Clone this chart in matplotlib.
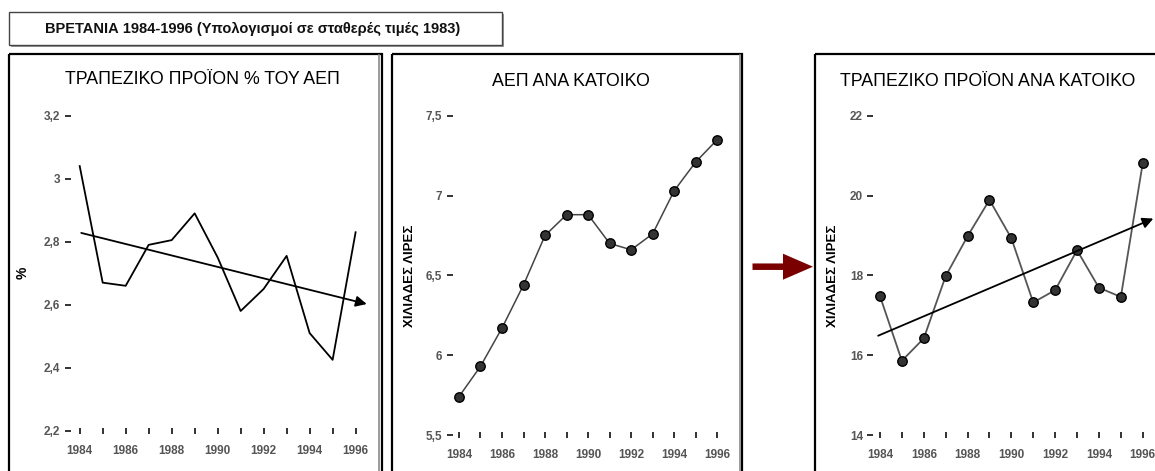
import numpy as np
import matplotlib
matplotlib.use('Agg')
import matplotlib.pyplot as plt
from matplotlib.patches import Rectangle, FancyArrow

plt.rcParams['font.family'] = ['Liberation Sans', 'DejaVu Sans']

# data
years = list(range(1984, 1997))
bank_pct_gdp = [3.04, 2.67, 2.66, 2.79, 2.805, 2.89, 2.75, 2.58, 2.65, 2.755, 2.51, 2.425, 2.83]
gdp_per_cap = [5.74, 5.93, 6.17, 6.44, 6.75, 6.88, 6.88, 6.70, 6.66, 6.76, 7.03, 7.21, 7.35]
bank_per_cap = [17.48, 15.86, 16.42, 17.98, 18.98, 19.89, 18.93, 17.32, 17.63, 18.63, 17.69, 17.46, 20.81]

# trend arrows (start / end)
trend1_x = [1983.95, 1996.6]
trend1_y = [2.83, 2.60]
trend3_x = [1983.8, 1996.6]
trend3_y = [16.46, 19.45]

titles = ['ΤΡΑΠΕΖΙΚΟ ΠΡΟΪΟΝ % ΤΟΥ ΑΕΠ', 'ΑΕΠ ΑΝΑ ΚΑΤΟΙΚΟ', 'ΤΡΑΠΕΖΙΚΟ ΠΡΟΪΟΝ ΑΝΑ ΚΑΤΟΙΚΟ']
ylabels = ['%', 'ΧΙΛΙΑΔΕΣ ΛΙΡΕΣ', 'ΧΙΛΙΑΔΕΣ ΛΙΡΕΣ']
yticks1 = [2.2, 2.4, 2.6, 2.8, 3.0, 3.2]
ylabs1 = ['2,2', '2,4', '2,6', '2,8', '3', '3,2']
yticks2 = [5.5, 6.0, 6.5, 7.0, 7.5]
ylabs2 = ['5,5', '6', '6,5', '7', '7,5']
yticks3 = [14, 16, 18, 20, 22]
ylabs3 = ['14', '16', '18', '20', '22']
main_title = 'ΒΡΕΤΑΝΙΑ 1984-1996 (Υπολογισμοί σε σταθερές τιμές 1983)'

W, H = 1155, 471
fig = plt.figure(figsize=(W / 100, H / 100), dpi=100)

# background layer in pixel coords
bg = fig.add_axes([0, 0, 1, 1])
bg.set_xlim(0, W)
bg.set_ylim(H, 0)
bg.axis('off')

# title box with shadow
bg.add_patch(Rectangle((11, 14), 493, 33, facecolor='#9a9a9a', edgecolor='none'))
bg.add_patch(Rectangle((8.5, 11.5), 493, 33, facecolor='white', edgecolor='#444444', lw=1))
bg.text(253, 28.5, main_title, ha='center', va='center', fontsize=10.5, fontweight='bold',
        color='#111111')

# panel boxes
for x0, x1 in [(8.5, 381.5), (391.5, 742), (815, 1200)]:
    bg.add_patch(Rectangle((x0, 54), x1 - x0, 500, facecolor='none', edgecolor='black', lw=1.6))
    bg.plot([x1 - 2.2, x1 - 2.2], [55, 480], color='#8a8a8a', lw=1.2)

# red arrow between panels
bg.add_patch(FancyArrow(752.5, 266.7, 60.5, 0, width=6.5, head_width=26, head_length=30,
                        length_includes_head=True, color='#7a0000', lw=0))


def make_ax(xl, xr, xlim, yt, yb, ylim):
    ax = fig.add_axes([xl / W, 1 - yb / H, (xr - xl) / W, (yb - yt) / H])
    ax.set_xlim(*xlim)
    ax.set_ylim(*ylim)
    ax.patch.set_alpha(0)
    for s in ax.spines.values():
        s.set_visible(False)
    ax.set_xticks(years)
    ax.set_xticklabels([str(y) if y % 2 == 0 else '' for y in years])
    ax.tick_params(axis='x', direction='inout', length=4, width=1.3, pad=8,
                   labelsize=8.5, colors='#222222', labelcolor='#555555')
    ax.tick_params(axis='y', direction='out', length=4.5, width=1.3, pad=3,
                   labelsize=8.5, colors='#222222', labelcolor='#555555')
    for lab in ax.get_xticklabels() + ax.get_yticklabels():
        lab.set_fontweight('bold')
    return ax


# panel 1
ax1 = make_ax(70.5, 374, (1983.6, 1996.8), 115.7, 430.7, (2.2, 3.2))
ax1.set_yticks(yticks1)
ax1.set_yticklabels(ylabs1, fontweight='bold')
ax1.plot(years, bank_pct_gdp, color='black', lw=1.3, clip_on=False)
ax1.annotate('', xy=(trend1_x[1], trend1_y[1]), xytext=(trend1_x[0], trend1_y[0]),
             arrowprops=dict(arrowstyle='-|>', color='black', lw=1.3, mutation_scale=16),
             annotation_clip=False)

# panel 2
ax2 = make_ax(452.5, 728, (1983.7, 1996.5), 115.7, 435, (5.5, 7.5))
ax2.set_yticks(yticks2)
ax2.set_yticklabels(ylabs2, fontweight='bold')
ax2.plot(years, gdp_per_cap, color='#444444', lw=1.1, marker='o', markersize=6.8,
         markerfacecolor='#333333', markeredgecolor='black', clip_on=False)

# panel 3
ax3 = make_ax(873.4, 1155, (1983.7, 1996.56), 115.7, 435, (14, 22))
ax3.set_yticks(yticks3)
ax3.set_yticklabels(ylabs3, fontweight='bold')
ax3.plot(years, bank_per_cap, color='#555555', lw=1.3, marker='o', markersize=6.8,
         markerfacecolor='#333333', markeredgecolor='black', clip_on=False)
ax3.annotate('', xy=(trend3_x[1], trend3_y[1]), xytext=(trend3_x[0], trend3_y[0]),
             arrowprops=dict(arrowstyle='-|>', color='black', lw=1.3, mutation_scale=16),
             annotation_clip=False)

# panel titles and y labels (pixel coords)
bg.text(202.5, 80, titles[0], ha='center', va='center', fontsize=12.8)
bg.text(571, 81, titles[1], ha='center', va='center', fontsize=12.8)
bg.text(987.5, 81, titles[2], ha='center', va='center', fontsize=12.8)
bg.text(23, 273, ylabels[0], ha='center', va='center', rotation=90, fontsize=10, fontweight='bold')
bg.text(410, 276, ylabels[1], ha='center', va='center', rotation=90, fontsize=9.5, fontweight='bold')
bg.text(833, 276, ylabels[2], ha='center', va='center', rotation=90, fontsize=9.5, fontweight='bold')

fig.savefig('out.png', dpi=100)
